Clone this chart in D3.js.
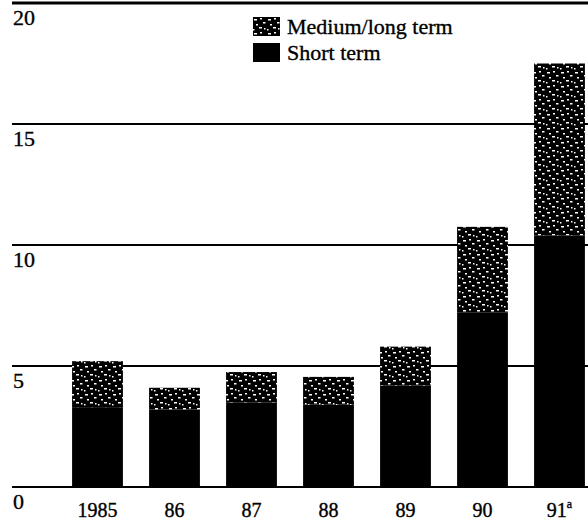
<!DOCTYPE html>
<html lang="en">
  <head>
    <meta charset="UTF-8" />
    <title>Short and medium/long term</title>
    <script src="https://d3js.org/d3.v7.min.js"></script>
    <style>
      body { margin: 0; background: #fff; }
      text {
        font-family: "Liberation Serif", "DejaVu Serif", serif;
        fill: #000;
        stroke: #000;
        stroke-width: 0.35px;
      }
    </style>
  </head>
  <body>
    <div id="chart"></div>
    <script>
      // data
      const years = ["1985", "86", "87", "88", "89", "90", "91"];
      const shortTerm = [3.3, 3.2, 3.5, 3.4, 4.2, 7.2, 10.4];
      const mediumLong = [1.9, 0.9, 1.25, 1.15, 1.6, 3.55, 7.1];
      const yTicks = [0, 5, 10, 15, 20];

      const width = 588;
      const height = 526;

      const svg = d3
        .select("#chart")
        .append("svg")
        .attr("width", width)
        .attr("height", height);

      // speckled fill for the medium/long segment
      const defs = svg.append("defs");
      const pat = defs
        .append("pattern")
        .attr("id", "speckle")
        .attr("patternUnits", "userSpaceOnUse")
        .attr("width", 14)
        .attr("height", 14);
      pat.append("rect").attr("width", 14).attr("height", 14).attr("fill", "#000");
      const specks = [
        [1, 2, 3, 1.5], [7, 1, 2, 1.5], [10, 5, 2.5, 1.5], [3, 7, 2, 1.5],
        [6, 10, 3, 1.5], [11, 11, 1.5, 1.5], [0, 12, 1.5, 1.5],
      ];
      pat
        .selectAll("rect.s")
        .data(specks)
        .enter()
        .append("rect")
        .attr("class", "s")
        .attr("x", (d) => d[0])
        .attr("y", (d) => d[1])
        .attr("width", (d) => d[2])
        .attr("height", (d) => d[3])
        .attr("fill", "#fff");

      const x = d3
        .scaleBand()
        .domain(years)
        .range([59, 598])
        .paddingInner(0.34)
        .paddingOuter(0.17);

      const y = d3.scaleLinear().domain([0, 20]).range([487, 3]);

      // gridlines
      svg
        .selectAll("line.grid")
        .data(yTicks)
        .enter()
        .append("line")
        .attr("class", "grid")
        .attr("x1", 12)
        .attr("x2", width)
        .attr("y1", (d) => y(d))
        .attr("y2", (d) => y(d))
        .attr("stroke", "#000")
        .attr("stroke-width", (d) => (d === 20 ? 3 : 2));

      // y labels sit just under each line
      svg
        .selectAll("text.ylab")
        .data(yTicks)
        .enter()
        .append("text")
        .attr("class", "ylab")
        .attr("x", 13)
        .attr("y", (d) => y(d) + 22)
        .attr("font-size", 22)
        .text((d) => d);

      // stacked bars
      const bars = svg
        .selectAll("g.bar")
        .data(years)
        .enter()
        .append("g")
        .attr("class", "bar");

      bars
        .append("rect")
        .attr("x", (d) => x(d))
        .attr("width", x.bandwidth())
        .attr("y", (d, i) => y(shortTerm[i]))
        .attr("height", (d, i) => y(0) - y(shortTerm[i]))
        .attr("fill", "#000");

      bars
        .append("rect")
        .attr("x", (d) => x(d))
        .attr("width", x.bandwidth())
        .attr("y", (d, i) => y(shortTerm[i] + mediumLong[i]))
        .attr("height", (d, i) => y(shortTerm[i]) - y(shortTerm[i] + mediumLong[i]))
        .attr("fill", "url(#speckle)");

      // x labels
      const xl = svg
        .selectAll("text.xlab")
        .data(years)
        .enter()
        .append("text")
        .attr("class", "xlab")
        .attr("x", (d) => x(d) + x.bandwidth() / 2)
        .attr("y", 517)
        .attr("text-anchor", "middle")
        .attr("font-size", 20)
        .text((d) => d);

      xl.filter((d) => d === "91")
        .append("tspan")
        .attr("dy", -9)
        .attr("font-size", 12)
        .text("a");

      // legend
      const legendItems = [
        { label: "Medium/long term", fill: "url(#speckle)" },
        { label: "Short term", fill: "#000" },
      ];
      const legend = svg
        .selectAll("g.legend")
        .data(legendItems)
        .enter()
        .append("g")
        .attr("class", "legend")
        .attr("transform", (d, i) => `translate(253, ${17 + i * 26})`);

      legend
        .append("rect")
        .attr("width", 27)
        .attr("height", 19)
        .attr("fill", (d) => d.fill);

      legend
        .append("text")
        .attr("x", 34)
        .attr("y", 17)
        .attr("font-size", 22)
        .text((d) => d.label);
    </script>
  </body>
</html>
